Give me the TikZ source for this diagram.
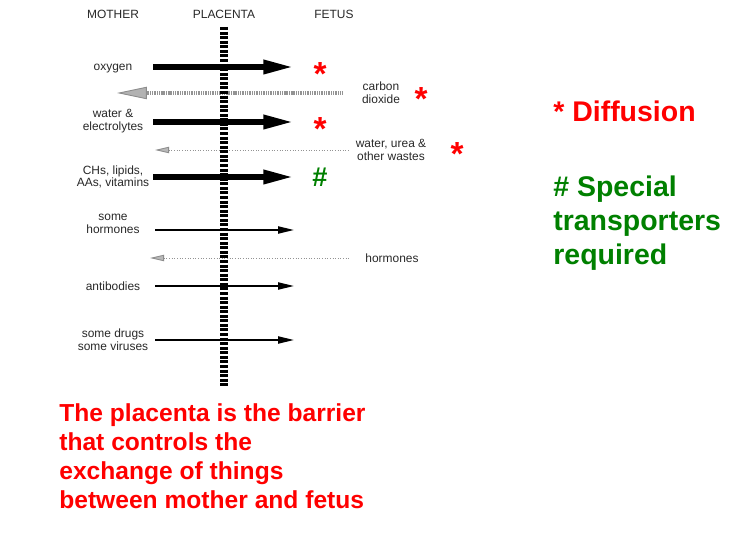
\documentclass[tikz,border=0pt]{standalone}
\usepackage{fontspec}
\setmainfont{Liberation Sans}
\usepackage{tikz}
\usetikzlibrary{arrows.meta}
\usepackage{xcolor}
\definecolor{slidered}{RGB}{255, 0, 0}
\definecolor{slidegreen}{RGB}{0, 128, 0}
\definecolor{labelgrey}{RGB}{40, 40, 40}

\tikzset{
  lbl/.style={font=\fontsize{6.8}{7.2}\selectfont, text=labelgrey, align=center, inner sep=0pt},
  bigarrow/.style={line width=3.4pt, -{Triangle[length=17.5pt, width=7.5pt]}},
  thinarrow/.style={line width=1.1pt, -{Triangle[length=9pt, width=4pt]}},
  backband/.style={draw=gray!85, line width=2.8pt, dash pattern=on 0.6pt off 0.4pt,
    {Triangle[length=17pt, width=7pt, fill=gray!60, color=gray!90, line width=0.5pt]}-},
  backdots/.style={draw=gray!85, line width=0.5pt, densely dotted,
    {Triangle[length=8pt, width=3.6pt, fill=gray!55, color=gray!90]}-},
  diffstar/.style={font=\fontsize{19}{19}\selectfont\bfseries, text=slidered, anchor=north, inner sep=0pt},
  specmark/.style={font=\fontsize{15.5}{15.5}\selectfont\bfseries, text=slidegreen, anchor=north, inner sep=0pt},
}

\begin{document}
\begin{tikzpicture}[x=0.02cm, y=-0.02cm]
        \useasboundingbox[fill=white] (0,0) rectangle (733,533);

        % ---- HEADINGS ----
        \node[lbl] (hmother)   at (113, 14) {MOTHER};
        \node[lbl] (hplacenta) at (224, 14) {PLACENTA};
        \node[lbl] (hfetus)    at (334, 14) {FETUS};

        % ---- SUBSTANCES ON THE MOTHER SIDE ----
        \node[lbl] (oxygen)   at (113, 69)  {oxygen};
        \node[lbl] (water)    at (113, 121) {water \&\\electrolytes};
        \node[lbl] (nutrient) at (113, 177) {CHs, lipids,\\AAs, vitamins};
        \node[lbl] (somehorm) at (113, 224) {some\\hormones};
        \node[lbl] (antibody) at (113, 286) {antibodies};
        \node[lbl] (drugs)    at (113, 340) {some drugs\\some viruses};

        % ---- WASTES / HORMONES ON THE FETUS SIDE ----
        \node[lbl] (carbon)  at (381, 93)  {carbon\\dioxide};
        \node[lbl] (wastes)  at (391, 150) {water, urea \&\\other wastes};
        \node[lbl] (fethorm) at (392, 258) {hormones};

        % arrow ends
        \coordinate (oxA) at (153, 67);   \coordinate (oxB) at (294, 67);
        \coordinate (waA) at (153, 122);  \coordinate (waB) at (294, 122);
        \coordinate (nuA) at (153, 177);  \coordinate (nuB) at (294, 177);
        \coordinate (shA) at (155, 230);  \coordinate (shB) at (294, 230);
        \coordinate (abA) at (155, 286);  \coordinate (abB) at (294, 286);
        \coordinate (drA) at (155, 340);  \coordinate (drB) at (294, 340);
        \coordinate (coA) at (117, 93);   \coordinate (coB) at (343, 93);
        \coordinate (wuA) at (155, 150);  \coordinate (wuB) at (350, 150);
        \coordinate (hoA) at (150, 258);  \coordinate (hoB) at (350, 258);

        % mother -> fetus
        \draw[bigarrow]  (oxA) -- (oxB);
        \draw[bigarrow]  (waA) -- (waB);
        \draw[bigarrow]  (nuA) -- (nuB);
        \draw[thinarrow] (shA) -- (shB);
        \draw[thinarrow] (abA) -- (abB);
        \draw[thinarrow] (drA) -- (drB);

        % fetus -> mother
        \draw[backband] (coA) -- (coB);
        \draw[backdots] (wuA) -- (wuB);
        \draw[backdots] (hoA) -- (hoB);

        % ---- PLACENTA BARRIER ----
        \coordinate (pltop) at (224, 27);
        \coordinate (plbot) at (224, 387);
        \draw[line width=4.3pt, dash pattern=on 1.7pt off 0.9pt] (pltop) -- (plbot);

        % ---- MARKS ----
        \node[diffstar] (st1) at (320, 62)  {*};
        \node[diffstar] (st2) at (421, 87)  {*};
        \node[diffstar] (st3) at (320, 117) {*};
        \node[diffstar] (st4) at (457, 142) {*};
        \node[specmark] (hs1) at (320, 168) {\#};

        % ---- KEY ----
        \node[font=\fontsize{16.2}{19.3}\selectfont\bfseries, text=slidered, anchor=base west, inner sep=0pt]
          (keydiff) at (553, 122) {* Diffusion};
        \node[font=\fontsize{16.2}{19.3}\selectfont\bfseries, text=slidegreen, anchor=north west, align=left, inner sep=0pt]
          (keyspec) at (553, 176) {\# Special\\transporters\\required};

        % ---- CAPTION ----
        \node[font=\fontsize{14}{16.6}\selectfont\bfseries, text=slidered, anchor=north west, align=left, inner sep=0pt]
          (caption) at (59, 403) {The placenta is the barrier\\that controls the\\exchange of things\\between mother and fetus};
      \end{tikzpicture}
\end{document}
